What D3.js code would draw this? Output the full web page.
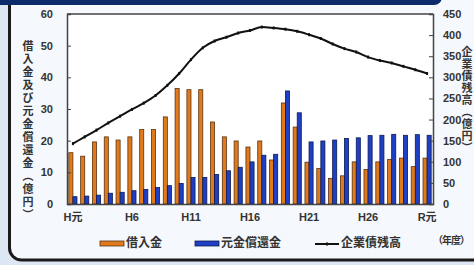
<!DOCTYPE html>
<html>
<head>
<meta charset="utf-8">
<script src="https://cdn.jsdelivr.net/npm/d3@7"></script>
<style>
  body { margin: 0; background: #dce7f3; }
  svg { display: block; }
  text { font-family: "Liberation Sans", "Noto Sans CJK JP", sans-serif; font-weight: bold; fill: #333; }
  .jp { font-family: "Noto Sans CJK JP", sans-serif; }
</style>
</head>
<body>
<div id="chart"></div>
<script>
// fiscal years H元 (1989) .. R元 (2019)
const years = ["H元","H2","H3","H4","H5","H6","H7","H8","H9","H10",
  "H11","H12","H13","H14","H15","H16","H17","H18","H19","H20",
  "H21","H22","H23","H24","H25","H26","H27","H28","H29","H30","R元"];
const tickYears = ["H元","H6","H11","H16","H21","H26","R元"];

// 借入金 (億円)
const borrowing = [16.2, 15.1, 19.6, 21.2, 20.2, 21.2, 23.5, 23.5, 27.5, 36.5,
  36.1, 36.1, 25.9, 21.2, 19.9, 18.0, 19.9, 13.9, 31.9, 24.3,
  13.2, 11.2, 8.1, 8.9, 13.3, 10.9, 13.3, 14.1, 14.5, 11.8, 14.5];
// 元金償還金 (億円)
const repayment = [2.3, 2.5, 2.8, 3.4, 3.7, 4.2, 4.6, 5.2, 5.8, 6.5,
  8.4, 8.4, 9.3, 10.5, 11.6, 13.3, 15.4, 15.7, 35.7, 28.8,
  19.6, 19.9, 20.2, 20.7, 20.9, 21.6, 21.7, 22.0, 21.7, 21.9, 21.7];
// 企業債残高 (億円, right axis)
const balance = [143, 159, 175, 192, 208, 224, 239, 257, 281, 309,
  342, 370, 386, 395, 405, 411, 419, 417, 414, 409,
  401, 392, 379, 368, 360, 348, 340, 334, 326, 318, 309];

const leftTicks = [0, 10, 20, 30, 40, 50, 60];
const rightTicks = [0, 50, 100, 150, 200, 250, 300, 350, 400, 450];

const width = 474, height = 265;
const plot = { left: 67, right: 433, top: 14, bottom: 204 };

const svg = d3.select("#chart").append("svg")
  .attr("width", width).attr("height", height);

// panel background + frame
svg.append("rect").attr("width", width).attr("height", height).attr("fill", "#dce7f3");
svg.append("rect")
  .attr("x", 9.5).attr("y", -20).attr("width", 490).attr("height", 280)
  .attr("rx", 12)
  .attr("fill", "#f5f8fc").attr("stroke", "#1a1a1a").attr("stroke-width", 3);
// navy header strip at the top
svg.append("rect")
  .attr("x", -10).attr("y", -20).attr("width", 452).attr("height", 25)
  .attr("rx", 8).attr("fill", "#0d2a6b");

// plot area
svg.append("rect")
  .attr("x", plot.left).attr("y", plot.top)
  .attr("width", plot.right - plot.left).attr("height", plot.bottom - plot.top)
  .attr("fill", "#fff");

const x = d3.scaleBand().domain(years).range([plot.left, plot.right]).padding(0);
const xSub = d3.scaleBand().domain(["b", "r"]).range([0, x.bandwidth()])
  .paddingInner(0).paddingOuter(0.45);
const yL = d3.scaleLinear().domain([0, 60]).range([plot.bottom, plot.top]);
const yR = d3.scaleLinear().domain([0, 450]).range([plot.bottom, plot.top]);

// bars
svg.append("g").selectAll("rect").data(borrowing).join("rect")
  .attr("x", (d, i) => x(years[i]) + xSub("b"))
  .attr("y", d => yL(d))
  .attr("width", xSub.bandwidth())
  .attr("height", d => yL(0) - yL(d))
  .attr("fill", "#e07a1c").attr("stroke", "#5a3412").attr("stroke-width", 0.8);

svg.append("g").selectAll("rect").data(repayment).join("rect")
  .attr("x", (d, i) => x(years[i]) + xSub("r"))
  .attr("y", d => yL(d))
  .attr("width", xSub.bandwidth())
  .attr("height", d => yL(0) - yL(d))
  .attr("fill", "#1f3fc4").attr("stroke", "#0b1a55").attr("stroke-width", 0.8);

// line
const line = d3.line()
  .x((d, i) => x(years[i]) + x.bandwidth() / 2)
  .y(d => yR(d))
  .curve(d3.curveMonotoneX);
svg.append("path").datum(balance)
  .attr("d", line).attr("fill", "none")
  .attr("stroke", "#111").attr("stroke-width", 2);
svg.append("g").selectAll("rect").data(balance).join("rect")
  .attr("x", (d, i) => x(years[i]) + x.bandwidth() / 2 - 1)
  .attr("y", d => yR(d) - 1.5)
  .attr("width", 2).attr("height", 3).attr("fill", "#111");

// axes
const axL = d3.axisLeft(yL).tickValues(leftTicks).tickSize(-4).tickPadding(14);
const gL = svg.append("g").attr("transform", `translate(${plot.left},0)`).call(axL);
const axR = d3.axisRight(yR).tickValues(rightTicks).tickSize(-4).tickPadding(14);
const gR = svg.append("g").attr("transform", `translate(${plot.right},0)`).call(axR);
const axB = d3.axisBottom(x).tickValues(tickYears).tickSize(0).tickPadding(9);
const gB = svg.append("g").attr("transform", `translate(0,${plot.bottom})`).call(axB);

[gL, gR, gB].forEach(g => {
  g.select(".domain").attr("stroke", "#444").attr("stroke-width", 1.5);
  g.selectAll(".tick line").attr("stroke", "#444");
  g.selectAll(".tick text").attr("fill", "#333").attr("font-size", 11)
    .attr("font-family", "Liberation Sans, Noto Sans CJK JP, sans-serif")
    .attr("font-weight", "bold");
});
gL.selectAll(".tick text").attr("x", -14);
gR.selectAll(".tick text").attr("x", 10);
// top frame line
svg.append("line")
  .attr("x1", plot.left).attr("x2", plot.right)
  .attr("y1", plot.top).attr("y2", plot.top)
  .attr("stroke", "#444").attr("stroke-width", 1.5);

// axis titles (vertical)
svg.append("text").attr("class", "jp")
  .attr("x", 28).attr("y", 40)
  .style("writing-mode", "vertical-rl")
  .attr("font-size", 11).attr("letter-spacing", 2)
  .text("借入金及び元金償還金（億円）");
svg.append("text").attr("class", "jp")
  .attr("x", 467).attr("y", 46)
  .style("writing-mode", "vertical-rl")
  .attr("font-size", 11).attr("letter-spacing", 1)
  .text("企業債残高（億円）");

// legend
const legend = [
  { label: "借入金", type: "bar", fill: "#e07a1c", stroke: "#5a3412", x: 100 },
  { label: "元金償還金", type: "bar", fill: "#1f3fc4", stroke: "#0b1a55", x: 195 },
  { label: "企業債残高", type: "line", x: 315 }
];
const lg = svg.append("g").selectAll("g").data(legend).join("g")
  .attr("transform", d => `translate(${d.x},243)`);
lg.filter(d => d.type === "bar").append("rect")
  .attr("x", 0).attr("y", -2).attr("width", 24).attr("height", 5)
  .attr("fill", d => d.fill).attr("stroke", d => d.stroke).attr("stroke-width", 0.8);
lg.filter(d => d.type === "line").append("line")
  .attr("x1", 0).attr("x2", 24).attr("y1", 1).attr("y2", 1)
  .attr("stroke", "#111").attr("stroke-width", 2);
lg.filter(d => d.type === "line").append("rect")
  .attr("x", 11).attr("y", -0.5).attr("width", 2).attr("height", 3).attr("fill", "#111");
lg.append("text").attr("class", "jp")
  .attr("x", 26).attr("y", 0).attr("dy", "0.35em")
  .attr("font-size", 12)
  .text(d => d.label);

svg.append("text").attr("class", "jp")
  .attr("x", 433).attr("y", 240).attr("dy", "0.35em")
  .attr("font-size", 10).attr("letter-spacing", -1)
  .text("（年度）");
</script>
</body>
</html>
